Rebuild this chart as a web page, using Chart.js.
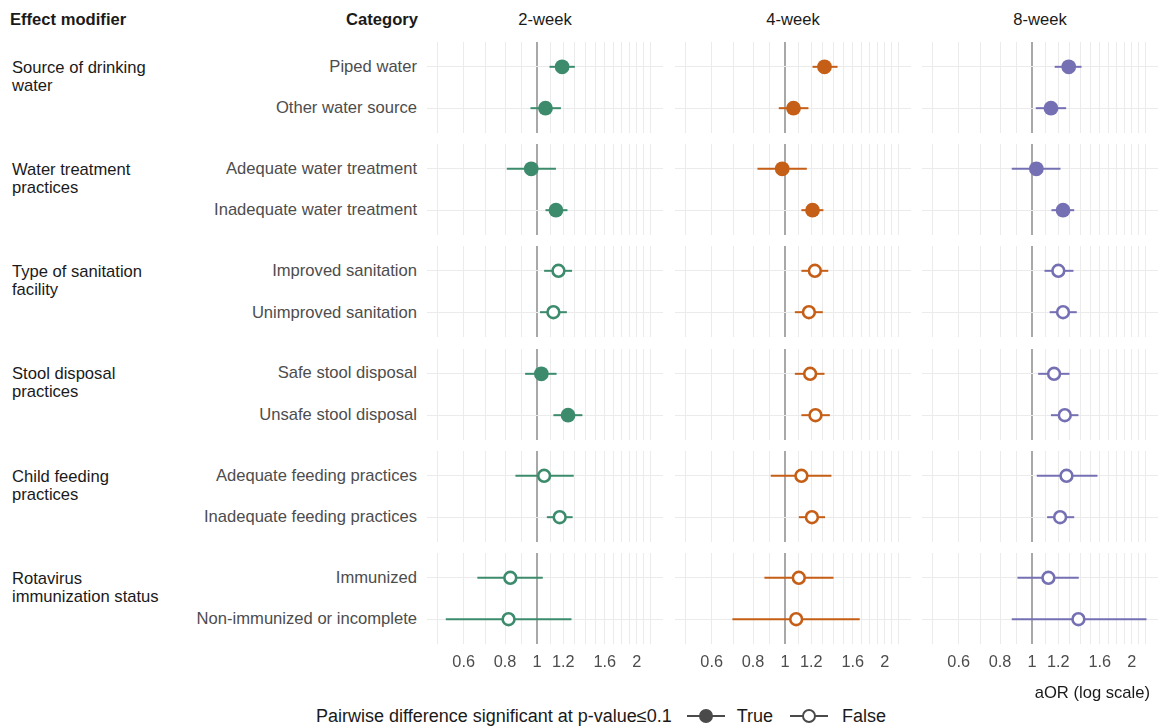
<!DOCTYPE html>
<html lang="en">
<head>
<meta charset="UTF-8">
<title>aOR by effect modifier</title>
<script src="https://cdn.jsdelivr.net/npm/chart.js"></script>
<style>
    body {
        margin: 0;
        width: 1158px;
        height: 726px;
        position: relative;
        overflow: hidden;
        background: #fff;
        font-family: 'Liberation Sans', Arial, sans-serif;
    }
    .lbl {
        position: absolute;
        font-size: 16.6px;
        line-height: 18px;
        white-space: pre;
        color: #1a1a1a;
    }
    .cat { color: #4d4d4d; text-align: right; }
    .key { display: inline-block; position: relative; width: 38px; height: 16px; vertical-align: -2px; }
    .key .bar { position: absolute; left: 0; right: 0; top: 7px; height: 2px; background: #4a4a4a; }
    .key .dot { position: absolute; left: 12px; top: 1px; width: 14px; height: 14px; border-radius: 50%; box-sizing: border-box; background: #4a4a4a; }
    .key .dot.open { background: #fff; border: 2.6px solid #4a4a4a; }
</style>
</head>
<body>

<script>
    // data
    const weeks = ['2-week', '4-week', '8-week'];
    const modifiers = ['Source of drinking\nwater', 'Water treatment\npractices', 'Type of sanitation\nfacility',
        'Stool disposal\npractices', 'Child feeding\npractices', 'Rotavirus\nimmunization status'];
    const categories = ['Piped water', 'Other water source', 'Adequate water treatment', 'Inadequate water treatment',
        'Improved sanitation', 'Unimproved sanitation', 'Safe stool disposal', 'Unsafe stool disposal',
        'Adequate feeding practices', 'Inadequate feeding practices', 'Immunized', 'Non-immunized or incomplete'];

    const est2 = [1.19, 1.06, 0.96, 1.14, 1.16, 1.12, 1.03, 1.24, 1.05, 1.17, 0.83, 0.82];
    const lo2  = [1.09, 0.955, 0.81, 1.06, 1.05, 1.02, 0.92, 1.12, 0.86, 1.07, 0.66, 0.53];
    const hi2  = [1.30, 1.18, 1.14, 1.235, 1.275, 1.23, 1.145, 1.37, 1.29, 1.28, 1.04, 1.27];
    const sig2 = [true, true, true, true, false, false, true, true, false, false, false, false];

    const est4 = [1.315, 1.06, 0.98, 1.21, 1.23, 1.18, 1.19, 1.235, 1.12, 1.205, 1.10, 1.08];
    const lo4  = [1.21, 0.957, 0.825, 1.12, 1.12, 1.07, 1.07, 1.12, 0.905, 1.10, 0.866, 0.693];
    const hi4  = [1.44, 1.176, 1.163, 1.305, 1.35, 1.30, 1.315, 1.365, 1.38, 1.32, 1.40, 1.68];
    const sig4 = [true, true, true, true, false, false, false, false, false, false, false, false];

    const est8 = [1.29, 1.14, 1.03, 1.24, 1.20, 1.24, 1.165, 1.255, 1.27, 1.215, 1.12, 1.38];
    const lo8  = [1.17, 1.026, 0.868, 1.144, 1.09, 1.13, 1.043, 1.14, 1.033, 1.11, 0.903, 0.868];
    const hi8  = [1.41, 1.267, 1.218, 1.34, 1.333, 1.364, 1.297, 1.38, 1.575, 1.34, 1.383, 2.215];
    const sig8 = [true, true, true, true, false, false, false, false, false, false, false, false];

    const gridVals = [0.5, 0.6, 0.7, 0.8, 0.9, 1, 1.1, 1.2, 1.3, 1.4, 1.5, 1.6, 1.7, 1.8, 1.9, 2, 2.1, 2.2];
    const tickVals = [0.6, 0.8, 1, 1.2, 1.6, 2];

    const colors = ['#3d8b6d', '#c55e16', '#7570b3'];
    const ests = [est2, est4, est8], los = [lo2, lo4, lo8], his = [hi2, hi4, hi8], sigs = [sig2, sig4, sig8];

    // layout
    const FONT = "'Liberation Sans', Arial, sans-serif";
    const panelLeft = [427, 675, 922];
    const panelW = 236, panelH = 91, pitch = 102.2, top0 = 42, axisH = 40;
    const xMin = 0.465, xMax = 2.40;

    function addLabel(text, css, cls) {
        const d = document.createElement('div');
        d.className = 'lbl' + (cls ? ' ' + cls : '');
        d.textContent = text;
        d.style.cssText = css;
        document.body.appendChild(d);
        return d;
    }

    // headers
    addLabel('Effect modifier', 'left:10px;top:11px;font-weight:bold;');
    addLabel('Category', 'right:740px;top:11px;font-weight:bold;');
    weeks.forEach((w, c) => {
        addLabel(w, `left:${panelLeft[c]}px;width:${panelW}px;top:11px;text-align:center;`);
    });

    function makePanel(col, g) {
        const top = Math.round(top0 + g * pitch);
        const bottom = g === modifiers.length - 1;
        const cv = document.createElement('canvas');
        cv.width = panelW;
        cv.height = panelH + (bottom ? axisH : 0);
        cv.style.cssText = `position:absolute;left:${panelLeft[col]}px;top:${top}px;`;
        document.body.appendChild(cv);

        const color = colors[col];
        const datasets = [];
        [2 * g, 2 * g + 1].forEach((r, k) => {
            const y = k + 1;
            const filled = sigs[col][r];
            datasets.push({
                order: 0,
                data: [{ x: ests[col][r], y: y }],
                pointRadius: filled ? 7.4 : 5.9,
                borderWidth: filled ? 0 : 2.6,
                backgroundColor: filled ? color : '#fff',
                borderColor: color
            });
            datasets.push({
                order: 1,
                data: [{ x: los[col][r], y: y }, { x: his[col][r], y: y }],
                showLine: true,
                borderColor: color,
                borderWidth: 2,
                pointRadius: 0
            });
        });

        new Chart(cv, {
            type: 'scatter',
            data: { datasets },
            options: {
                responsive: false,
                animation: false,
                events: [],
                layout: { padding: 0, autoPadding: false },
                plugins: { legend: { display: false }, tooltip: { enabled: false } },
                scales: {
                    x: {
                        type: 'logarithmic',
                        min: xMin,
                        max: xMax,
                        afterBuildTicks: s => { s.ticks = gridVals.map(v => ({ value: v })); },
                        afterFit: s => { s.height = bottom ? axisH : 0; },
                        border: { display: false },
                        grid: {
                            drawTicks: false,
                            color: c => (c.tick && c.tick.value === 1) ? '#a8a8a8' : '#ebebeb',
                            lineWidth: c => (c.tick && c.tick.value === 1) ? 2 : 1
                        },
                        ticks: {
                            display: bottom,
                            autoSkip: false,
                            maxRotation: 0,
                            padding: 9,
                            color: '#4d4d4d',
                            font: { family: FONT, size: 16.3 },
                            callback: v => tickVals.includes(v) ? String(v) : ''
                        }
                    },
                    y: {
                        min: 0.4,
                        max: 2.6,
                        reverse: true,
                        afterBuildTicks: s => { s.ticks = [{ value: 1 }, { value: 2 }]; },
                        afterFit: s => { s.width = 0; },
                        border: { display: false },
                        grid: { drawTicks: false, color: '#ebebeb', lineWidth: 1 },
                        ticks: { display: false }
                    }
                }
            }
        });
    }

    modifiers.forEach((m, g) => {
        const top = top0 + g * pitch;
        const row1 = top + panelH * 0.6 / 2.2;
        const row2 = top + panelH * 1.6 / 2.2;
        addLabel(m, `left:12px;top:${row1 - 8}px;`);
        addLabel(categories[2 * g], `right:741px;top:${row1 - 9}px;`, 'cat');
        addLabel(categories[2 * g + 1], `right:741px;top:${row2 - 9}px;`, 'cat');
        for (let c = 0; c < weeks.length; c++) makePanel(c, g);
    });

    // axis title
    addLabel('aOR (log scale)', 'right:8px;top:684px;');

    // legend
    const leg = document.createElement('div');
    leg.className = 'lbl';
    leg.style.cssText = 'left:316px;top:706px;font-size:18px;line-height:20px;';
    leg.innerHTML = 'Pairwise difference significant at p-value\u22640.1' +
        '<span class="key" style="margin-left:15px"><span class="bar"></span><span class="dot"></span></span>' +
        '<span style="margin-left:12px">True</span>' +
        '<span class="key" style="margin-left:17px"><span class="bar"></span><span class="dot open"></span></span>' +
        '<span style="margin-left:14px">False</span>';
    document.body.appendChild(leg);
</script>

</body>
</html>
